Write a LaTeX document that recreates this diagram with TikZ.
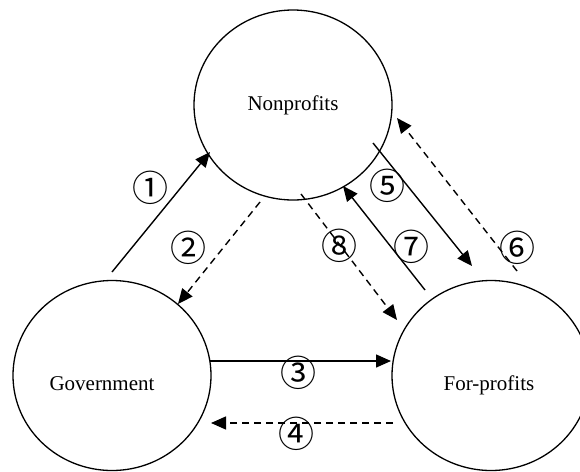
\documentclass[tikz,border=0pt]{standalone}
\usepackage{fontspec}
\setmainfont{Liberation Serif}
\newfontfamily\circfont{Noto Sans CJK SC}
\usetikzlibrary{shapes.geometric,arrows.meta}
\begin{document}
\begin{tikzpicture}[x=1pt,y=-1pt,
  sector/.style={draw,ellipse,line width=1.3pt,minimum width=198pt,minimum height=190pt,inner sep=0pt},
  sectorname/.style={font=\fontsize{21}{21}\selectfont,anchor=base,inner sep=0pt},
  num/.style={font=\circfont\fontsize{36}{36}\selectfont,inner sep=0pt},
  flow/.style={line width=1.4pt,-{Triangle[length=15pt,width=13pt]}},
  back/.style={flow,dash pattern=on 7pt off 5pt}]
\clip (0,0) rectangle (580,471);
\fill[white] (0,0) rectangle (580,471);

% the three sectors
\node[sector] (np) at (293,105) {};
\node[sector] (gov) at (112,375.5) {};
\node[sector] (fp) at (491,375.5) {};
\node[sectorname] (npt) at (293,110) {Nonprofits};
\node[sectorname] (govt) at (102,390) {Government};
\node[sectorname] (fpt) at (489,390) {For-profits};

% arrow end points
\coordinate (a1s) at (112,272); \coordinate (a1e) at (210,152);
\coordinate (a2s) at (260,202); \coordinate (a2e) at (178,304);
\coordinate (a3s) at (210,361); \coordinate (a3e) at (391,361);
\coordinate (a4s) at (393,423); \coordinate (a4e) at (211,423);
\coordinate (a5s) at (373,143); \coordinate (a5e) at (472,266);
\coordinate (a6s) at (517,271); \coordinate (a6e) at (397,118);
\coordinate (a7s) at (425,290); \coordinate (a7e) at (343,186);
\coordinate (a8s) at (301,194); \coordinate (a8e) at (397,320);

% flows between sectors
\draw[flow] (a1s) -- (a1e);
\draw[back] (a2s) -- (a2e);
\draw[flow] (a3s) -- (a3e);
\draw[back] (a4s) -- (a4e);
\draw[flow] (a5s) -- (a5e);
\draw[back] (a6s) -- (a6e);
\draw[flow] (a7s) -- (a7e);
\draw[back] (a8s) -- (a8e);

% flow numbers
\node[num] (n1) at (150,188) {①};
\node[num] (n2) at (188,248) {②};
\node[num] (n3) at (298,373) {③};
\node[num] (n4) at (296,434) {④};
\node[num] (n5) at (387,186) {⑤};
\node[num] (n6) at (517,248) {⑥};
\node[num] (n7) at (411,247) {⑦};
\node[num] (n8) at (339,246) {⑧};
\end{tikzpicture}
\end{document}
